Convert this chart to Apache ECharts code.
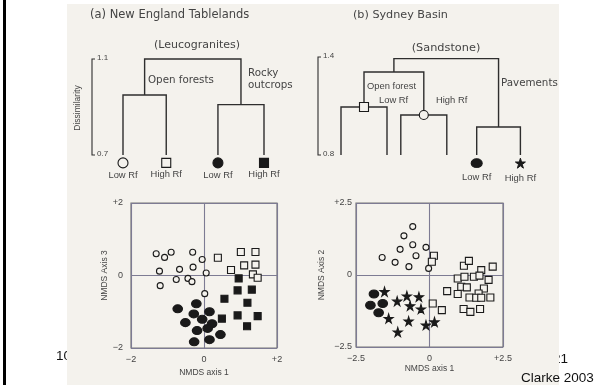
<!DOCTYPE html>
<html>
<head>
<meta charset="utf-8">
<script src="https://cdn.jsdelivr.net/npm/echarts@6/dist/echarts.min.js"></script>
<style>
  html, body { margin: 0; padding: 0; background: #fff; }
  #chart { width: 615px; height: 385px; }
</style>
</head>
<body>
<div id="chart"></div>
<script>
// --- dendrogram (a): New England Tablelands ---
const leftLeafPos = [0, 0.92, 2.02, 3.0];
const leftLeafLabels = ["Low Rf", "High Rf", "Low Rf", "High Rf"];
const leftLeafSymbols = ["openCircle", "openSquare", "filledCircle", "filledSquare"];
const leftLinks = [
  // [xLeft, xRight, hLeft, hRight, hMerge]
  [0, 0.92, 0.7, 0.7, 0.95],
  [2.02, 3.0, 0.7, 0.7, 0.91],
  [0.46, 2.51, 0.95, 0.91, 1.1],
];
const leftTicks = [0.7, 1.1];

// --- dendrogram (b): Sydney Basin ---
const rightLeafPos = [0, 1, 1.3, 2.3, 2.95, 3.9];
const rightLinks = [
  [0, 1, 0.8, 0.8, 1.094],
  [1.3, 2.3, 0.8, 0.8, 1.045],
  [0.5, 1.8, 1.094, 1.045, 1.308],
  [2.95, 3.9, 0.8, 0.8, 0.971],
  [1.15, 3.425, 1.308, 0.971, 1.39],
];
const rightNodeMarks = [[0.5, 1.094, "openSquare"], [1.8, 1.045, "openCircle"]];
const rightLeafMarks = [[2.95, "filledEllipse", "Low Rf"], [3.9, "star", "High Rf"]];
const rightTicks = [0.8, 1.4];

// --- NMDS (a): axis 1 vs axis 3 ---
const aOpenCircles = [[-1.31,0.60],[-1.08,0.50],[-0.90,0.64],[-0.31,0.64],[-0.05,0.44],[-1.22,0.12],[-0.67,0.17],[-0.30,0.23],[0.06,0.07],[-0.76,-0.11],[-0.44,-0.08],[-0.33,-0.17],[-1.20,-0.28],[0.02,-0.50]];
const aOpenSquares = [[0.38,0.49],[1.01,0.65],[1.41,0.65],[1.10,0.28],[1.41,0.30],[0.74,0.15],[1.34,0.03],[1.47,-0.06]];
const aFilledSquares = [[0.95,-0.08],[0.92,-0.41],[1.31,-0.39],[0.56,-0.64],[1.19,-0.75],[0.49,-1.19],[0.92,-1.10],[1.47,-1.12],[1.18,-1.40]];
const aFilledCircles = [[-0.72,-0.92],[-0.21,-0.78],[-0.28,-1.06],[0.15,-1.00],[-0.51,-1.30],[-0.05,-1.21],[0.22,-1.33],[-0.19,-1.52],[0.10,-1.46],[0.45,-1.63],[-0.27,-1.83],[0.15,-1.77]];

// --- NMDS (b): axis 1 vs axis 2 ---
const bOpenCircles = [[-0.57,1.68],[-0.87,1.36],[-0.57,1.05],[-1.00,0.89],[-0.12,0.96],[-0.46,0.67],[-1.61,0.61],[-1.17,0.44],[-0.70,0.29],[-0.03,0.23]];
const bStars = [[-1.53,-0.58],[-1.10,-0.91],[-0.77,-0.73],[-0.36,-0.76],[-0.66,-1.07],[-0.29,-1.18],[-1.39,-1.51],[-0.71,-1.60],[-1.08,-1.98],[-0.12,-1.74],[0.17,-1.63]];
const bFilledCircles = [[-1.89,-0.66],[-2.01,-1.05],[-1.59,-0.99],[-1.73,-1.31]];
const bOpenSquares = [[0.15,0.67],[0.08,0.46],[1.17,0.32],[1.34,0.49],[1.76,0.17],[2.15,0.29],[0.96,-0.12],[1.19,-0.06],[1.51,-0.06],[1.70,-0.02],[2.01,-0.17],[1.08,-0.41],[1.27,-0.43],[1.85,-0.47],[0.60,-0.56],[0.96,-0.66],[1.36,-0.78],[1.67,-0.64],[1.59,-0.79],[1.76,-0.79],[2.07,-0.78],[0.11,-0.99],[0.42,-1.22],[1.16,-1.18],[1.39,-1.28],[1.72,-1.18]];

const aTicks = [-2, 0, 2];
const bTicks = [-2.5, 0, 2.5];

const BEIGE = "#f4f2ed";
const INK = "#2e2e2e";
const TXT = "#444";
const WIDE = '"DejaVu Sans", Verdana, sans-serif';
const NARROW = '"Liberation Sans Narrow", "Liberation Sans", Arial, sans-serif';
const ARIAL = '"Liberation Sans", Arial, sans-serif';
const STAR = "path://M50,0 L61,35 L98,35 L68,57 L79,91 L50,70 L21,91 L32,57 L2,35 L39,35 Z";

// marker styles shared by dendrograms and ordinations
const marks = {
  openCircle: { symbol: "circle", fill: BEIGE },
  openSquare: { symbol: "rect", fill: BEIGE },
  filledCircle: { symbol: "circle", fill: "#1a1a1a" },
  filledEllipse: { symbol: "circle", fill: "#1a1a1a" },
  filledSquare: { symbol: "rect", fill: "#1a1a1a" },
  star: { symbol: STAR, fill: "#1a1a1a" },
};

function linkRender(params, api) {
  const a = api.coord([api.value(0), api.value(2)]);
  const b = api.coord([api.value(0), api.value(4)]);
  const c = api.coord([api.value(1), api.value(4)]);
  const d = api.coord([api.value(1), api.value(3)]);
  return {
    type: "polyline",
    shape: { points: [a, b, c, d] },
    style: { stroke: INK, lineWidth: 1.4, fill: null },
  };
}

function bracketRender(offset, ticks) {
  return function (params, api) {
    const lo = api.coord([0, ticks[0]]);
    const hi = api.coord([0, ticks[1]]);
    const x = lo[0] - offset;
    const label = (v, y) => ({
      type: "text",
      style: {
        text: v.toFixed(1), x: x + 5, y: y - 1,
        textAlign: "left", textVerticalAlign: "middle",
        align: "left", verticalAlign: "middle",
        font: "8px " + ARIAL, fill: TXT,
      },
    });
    return {
      type: "group",
      children: [
        {
          type: "polyline",
          shape: { points: [[x + 3, hi[1]], [x, hi[1]], [x, lo[1]], [x + 3, lo[1]]] },
          style: { stroke: INK, lineWidth: 1.1, fill: null },
        },
        label(ticks[1], hi[1]),
        label(ticks[0], lo[1]),
      ],
    };
  };
}

function markStyle(kind, bw) {
  return { color: marks[kind].fill, borderColor: "#1a1a1a", borderWidth: bw, opacity: 1 };
}

function scatter(idx, data, kind, size) {
  return {
    type: "scatter",
    xAxisIndex: idx, yAxisIndex: idx,
    data: data,
    symbol: marks[kind].symbol,
    symbolSize: size,
    itemStyle: markStyle(kind, 1.1),
    z: 5,
  };
}

function nmdsAxes(idx, ticks, nameX, nameY, gapX, gapY, marginY) {
  const fmt = (v) => (v > 0 ? "+" + v : v < 0 ? "\u2212" + Math.abs(v) : "0");
  const common = {
    type: "value",
    gridIndex: idx,
    min: ticks[0], max: ticks[2], interval: ticks[2],
    axisLine: { show: false },
    axisTick: { show: false },
    splitLine: { show: true, lineStyle: { color: "#7d7b93", width: 1.1 } },
    nameLocation: "middle",
    nameTextStyle: { fontFamily: ARIAL, fontSize: 8.5, color: TXT },
  };
  return [
    Object.assign({}, common, {
      name: nameX, nameGap: gapX,
      axisLabel: { formatter: fmt, fontFamily: ARIAL, fontSize: 9, color: TXT, margin: 7 },
    }),
    Object.assign({}, common, {
      name: nameY, nameGap: gapY,
      axisLabel: { formatter: fmt, fontFamily: ARIAL, fontSize: 9, color: TXT, margin: marginY },
    }),
  ];
}

const chart = echarts.init(document.getElementById("chart"), null, { renderer: "canvas" });

const hiddenX = (idx, min, max) => ({ type: "value", gridIndex: idx, min, max, show: false });
const hiddenY = (idx, min, max) => ({ type: "value", gridIndex: idx, min, max, show: false });

const aAxes = nmdsAxes(2, aTicks, "NMDS axis 1", "NMDS Axis 3", 20, 18, 8);
const bAxes = nmdsAxes(3, bTicks, "NMDS axis 1", "NMDS Axis 2", 15, 30, 4);

const txt = (text, x, y, font, align) => ({
  type: "text", x, y, z: 10,
  style: { text, font, fill: TXT, textAlign: align || "left", textVerticalAlign: "middle" },
});

chart.setOption({
  backgroundColor: "#ffffff",
  animation: false,
  graphic: [
    // slide page numbers (partly hidden under the scanned figure)
    { type: "text", x: 56, y: 356, z: -30, style: { text: "10", font: "13.5px " + ARIAL, fill: "#111", textVerticalAlign: "middle" } },
    { type: "text", x: 553, y: 359, z: -30, style: { text: "21", font: "13.5px " + ARIAL, fill: "#111", textVerticalAlign: "middle" } },
    { type: "rect", z: -20, shape: { x: 67, y: 4, width: 492, height: 381 }, style: { fill: BEIGE } },
    { type: "rect", z: -20, shape: { x: 3, y: 0, width: 3, height: 385 }, style: { fill: "#000" } },
    { type: "text", x: 521, y: 378, z: 10, style: { text: "Clarke 2003", font: "13.5px " + ARIAL, fill: "#111", textVerticalAlign: "middle" } },

    // panel titles and annotations
    txt("(a) New England Tablelands", 90, 15, "11.5px " + WIDE),
    txt("(Leucogranites)", 197, 45, "11px " + WIDE, "center"),
    txt("Open forests", 148, 80, "10.3px " + WIDE),
    txt("Rocky", 248, 73, "10.3px " + WIDE),
    txt("outcrops", 248, 85, "10.3px " + WIDE),
    txt("(b) Sydney Basin", 353, 15, "11.2px " + WIDE),
    txt("(Sandstone)", 446, 48, "11.3px " + WIDE, "center"),
    txt("Pavements", 501, 83, "10.3px " + WIDE),
    txt("Open forest", 367, 86, "9.4px " + NARROW),
    txt("Low Rf", 379, 100, "9.4px " + NARROW),
    txt("High Rf", 436, 100, "9.4px " + NARROW),
    { type: "text", x: 78, y: 108, rotation: Math.PI / 2, z: 10,
      style: { text: "Dissimilarity", font: "8.5px " + NARROW, fill: TXT, textAlign: "center", textVerticalAlign: "middle" } },
  ],
  grid: [
    { left: 123, top: 59, width: 141, height: 120 },
    { left: 341, top: 57, width: 179.4, height: 122.5 },
    { left: 131, top: 203, width: 146, height: 145, show: true, borderColor: "#777", borderWidth: 1.2, backgroundColor: "transparent" },
    { left: 356, top: 203, width: 147, height: 144, show: true, borderColor: "#777", borderWidth: 1.2, backgroundColor: "transparent" },
  ],
  xAxis: [hiddenX(0, 0, 3.0), hiddenX(1, 0, 3.9), aAxes[0], bAxes[0]],
  yAxis: [hiddenY(0, 0.6, 1.1), hiddenY(1, 0.65, 1.4), aAxes[1], bAxes[1]],
  series: [
    // dendrogram (a)
    { type: "custom", xAxisIndex: 0, yAxisIndex: 0, renderItem: linkRender, data: leftLinks, z: 3 },
    { type: "custom", xAxisIndex: 0, yAxisIndex: 0, renderItem: bracketRender(31, leftTicks), data: [[0, 0]], z: 3 },
    ...leftLeafPos.map((x, i) => ({
      type: "scatter", xAxisIndex: 0, yAxisIndex: 0, z: 5,
      data: [[x, 0.667]],
      symbol: marks[leftLeafSymbols[i]].symbol,
      symbolSize: leftLeafSymbols[i].indexOf("Square") > 0 ? 9 : 10,
      itemStyle: markStyle(leftLeafSymbols[i], 1.1),
      label: { show: true, position: "bottom", distance: 2, formatter: leftLeafLabels[i], fontFamily: NARROW, fontSize: 9.4, color: TXT },
    })),
    // dendrogram (b)
    { type: "custom", xAxisIndex: 1, yAxisIndex: 1, renderItem: linkRender, data: rightLinks, z: 3 },
    { type: "custom", xAxisIndex: 1, yAxisIndex: 1, renderItem: bracketRender(23, rightTicks), data: [[0, 0]], z: 3 },
    ...rightNodeMarks.map((m) => ({
      type: "scatter", xAxisIndex: 1, yAxisIndex: 1, z: 5,
      data: [[m[0], m[1]]],
      symbol: marks[m[2]].symbol, symbolSize: 9,
      itemStyle: markStyle(m[2], 1.1),
    })),
    ...rightLeafMarks.map((m) => ({
      type: "scatter", xAxisIndex: 1, yAxisIndex: 1, z: 5,
      data: [[m[0], 0.75]],
      symbol: marks[m[1]].symbol, symbolSize: m[1] === "star" ? 10 : [11, 9],
      itemStyle: markStyle(m[1], 1),
      label: { show: true, position: "bottom", distance: 5, formatter: m[2], fontFamily: NARROW, fontSize: 9.4, color: TXT },
    })),
    // NMDS (a)
    scatter(2, aOpenCircles, "openCircle", 6),
    scatter(2, aOpenSquares, "openSquare", 7),
    scatter(2, aFilledSquares, "filledSquare", 7),
    scatter(2, aFilledCircles, "filledCircle", [9.5, 8]),
    // NMDS (b)
    scatter(3, bOpenCircles, "openCircle", 6),
    scatter(3, bOpenSquares, "openSquare", 7),
    scatter(3, bStars, "star", 9),
    scatter(3, bFilledCircles, "filledEllipse", [9.5, 8]),
  ],
});
</script>
</body>
</html>
